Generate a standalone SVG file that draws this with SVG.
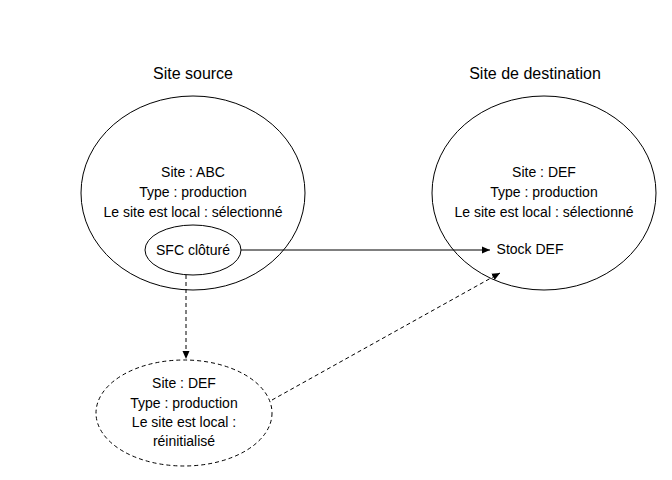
<svg xmlns="http://www.w3.org/2000/svg" width="672" height="480" viewBox="0 0 672 480">
<style>
text{font-family:"Liberation Sans",Arial,sans-serif;font-size:14px;text-anchor:middle;fill:#000}
.t{font-size:16px}
.e{fill:#fff;stroke:#000;stroke-width:1}
.d{stroke-dasharray:4,3}
.c{stroke:#000;fill:none}
</style>
<defs><marker id="a" markerWidth="10" markerHeight="10" refX="8" refY="5" orient="auto" markerUnits="userSpaceOnUse"><path d="M0,1.5 L8,5 L0,8.5 Z" fill="#000"/></marker></defs>
<rect width="672" height="480" fill="#fff"/>
<text class="t" x="193" y="79">Site source</text>
<text class="t" x="535" y="79">Site de destination</text>
<g id="source"><ellipse class="e" cx="193" cy="193" rx="112" ry="97"/>
<text x="193" y="177">Site : ABC</text><text x="193" y="197">Type : production</text><text x="193" y="217">Le site est local : sélectionné</text></g>
<g id="dest"><ellipse class="e" cx="544" cy="193" rx="112" ry="97"/>
<text x="544" y="177">Site : DEF</text><text x="544" y="197">Type : production</text><text x="544" y="217">Le site est local : sélectionné</text>
<text x="530" y="254">Stock DEF</text></g>
<g id="sfc"><ellipse class="e" cx="193" cy="250" rx="48" ry="25"/><text x="193" y="255">SFC clôturé</text></g>
<g id="temp"><ellipse class="e d" cx="184" cy="413" rx="88" ry="53"/>
<text x="184" y="388">Site : DEF</text><text x="184" y="408">Type : production</text><text x="184" y="427">Le site est local :</text><text x="184" y="446">réinitialisé</text></g>
<g id="connectors">
<path class="c" d="M241,250 L490,250" marker-end="url(#a)"/>
<path class="c d" d="M186,275 L186,359" marker-end="url(#a)"/>
<path class="c d" d="M272,400 L500,273" marker-end="url(#a)"/>
</g>
</svg>
